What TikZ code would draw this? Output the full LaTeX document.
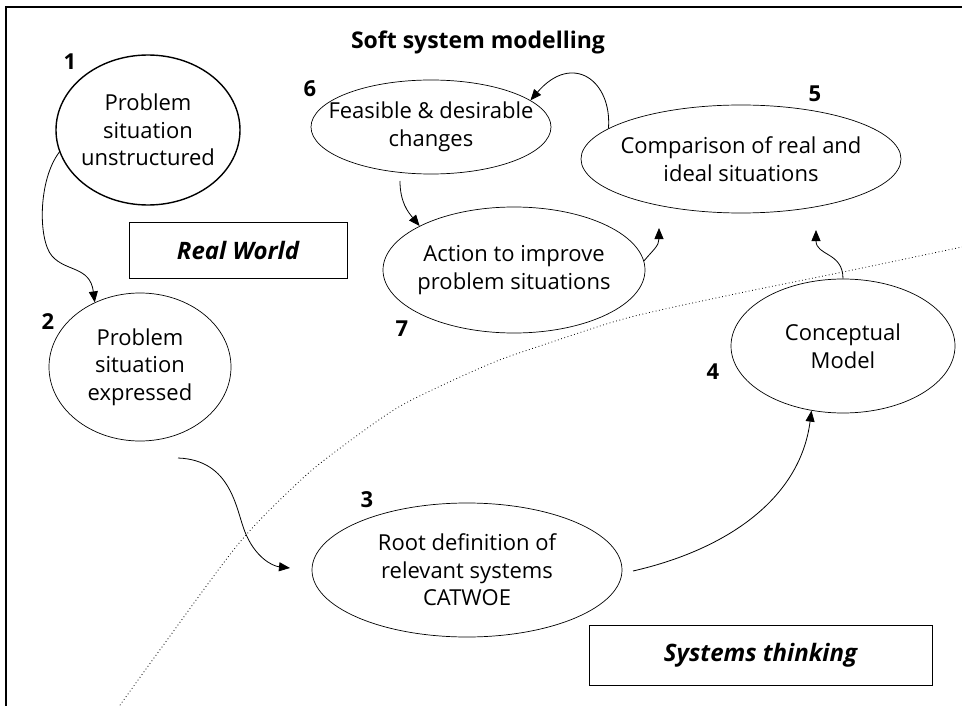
\documentclass[tikz,border=0pt]{standalone}
\usepackage{fontspec}
\setmainfont{Open Sans}
\usetikzlibrary{shapes.geometric,arrows.meta}
\begin{document}
\begin{tikzpicture}[x=1pt,y=-1pt,
  ell/.style={draw, ellipse, inner xsep=-45pt, inner ysep=-10pt, line width=0.7pt, align=center, font=\fontsize{22}{27.5}\selectfont},
  num/.style={font=\bfseries\fontsize{22}{26}\selectfont, inner sep=0pt},
  lbox/.style={draw, line width=0.9pt, inner sep=0pt, font=\bfseries\itshape\fontsize{24}{28}\selectfont},
  arr/.style={-{Triangle[length=11pt,width=9pt]}, line width=0.8pt},
  frame/.style={line width=1.2pt}]
\useasboundingbox (0,0) rectangle (962,706);
% frame (top and left edges)
\draw[frame] (6,706) -- (6,7) -- (962,7);
% title
\node[font=\bfseries\fontsize{23}{27}\selectfont] (title) at (478,42) {Soft system modelling};
% dotted boundary
\draw[line width=0.8pt, dash pattern=on 0.8pt off 2.6pt] plot[smooth, tension=0.5] coordinates {(118,708) (162,647) (240,542) (303,478) (347,443) (397,408) (447,383) (497,361) (540,346) (627,318) (735,294) (843,272) (962,247)};
% ellipses
\node[ell, line width=1.4pt, minimum width=184pt, minimum height=150pt] (e1) at (148,130) {Problem\\situation\\unstructured};
\node[ell, minimum width=182pt, minimum height=148pt] (e2) at (140,367) {Problem\\situation\\expressed};
\node[ell, minimum width=310pt, minimum height=134pt] (e3) at (467,570) {Root definition of\\relevant systems\\CATWOE};
\node[ell, minimum width=224pt, minimum height=134pt] (e4) at (843,346) {Conceptual\\Model};
\node[ell, minimum width=320pt, minimum height=108pt] (e5) at (741,159) {Comparison of real and\\ideal situations};
\node[ell, minimum width=240pt, minimum height=94pt] (e6) at (431,127) {Feasible \& desirable\\changes};
\node[ell, minimum width=262pt, minimum height=126pt] (e7) at (514,270) {Action to improve\\problem situations};
% numbers
\node[num] (n1) at (70,62) {1};
\node[num] (n2) at (48,322) {2};
\node[num] (n3) at (367,500) {3};
\node[num] (n4) at (713,372) {4};
\node[num] (n5) at (815,94) {5};
\node[num] (n6) at (310,89) {6};
\node[num] (n7) at (402,329) {7};
% label boxes
\node[lbox, minimum width=218pt, minimum height=56pt] (rw) at (238,250) {Real World};
\node[lbox, minimum width=343pt, minimum height=60pt] (st) at (760.5,655) {Systems thinking};
% free ends
\coordinate (s23) at (178,458);
\coordinate (t23) at (290,568);
\coordinate (s34) at (633,571);
\coordinate (t45) at (816,230);
\coordinate (t75) at (659,228);
\coordinate (s67) at (400,181);
% connectors
\draw[arr] (e1.194) .. controls (38,180) and (38,240) .. (52,256) .. controls (66,272) and (90,266) .. (e2.125);
\draw[arr] (s23) .. controls (232,460) and (236,510) .. (245,532) .. controls (255,557) and (272,566) .. (t23);
\draw[arr] (s34) .. controls (725,550) and (800,500) .. (e4.244);
\draw[arr] (e4.north) .. controls (843,252) and (816,256) .. (t45);
\draw[arr] (e7.4) .. controls (653,250) and (659,246) .. (t75);
\draw[arr] (e5.167) .. controls (612,80) and (572,52) .. (e6.15);
\draw[arr] (s67) .. controls (400,202) and (408,212) .. (e7.155);
\end{tikzpicture}
\end{document}
